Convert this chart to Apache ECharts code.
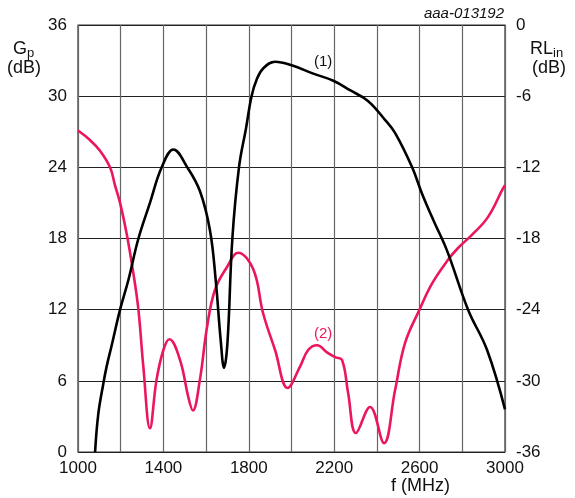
<!DOCTYPE html>
<html>
<head>
<meta charset="utf-8">
<script src="https://cdn.jsdelivr.net/npm/echarts@6/dist/echarts.min.js"></script>
<style>html,body{margin:0;padding:0;background:#fff;}#c{width:575px;height:498px;}</style>
</head>
<body>
<div id="c"></div>
<script>
// Gp (left axis, dB) vs f (MHz)
var gpFreq = [1080,1095,1119,1134,1158,1197,1236,1283,1337,1392,1447,1512,1571,1618,1645,1668,1684,1700,1723,1754,1787,1813,1837,1868,1923,2001,2102,2196,2274,2358,2438,2485,2565,2611,2663,2728,2827,2916,3000];
var gpVal  = [0,3.2,5.8,7.2,9.0,12,14.5,18,21,24,25.5,24,22,18.7,14.5,9.5,7.1,9.2,18,24,27.3,30,31.4,32.35,32.9,32.6,31.9,31.3,30.5,29.6,28.0,26.9,24.0,21.8,19.6,17,12,8.6,3.6];
// RLin (right axis, dB) vs f (MHz)
var rlFreq = [1000,1056,1103,1150,1173,1197,1228,1259,1283,1306,1337,1368,1400,1428,1478,1517,1538,1571,1604,1642,1698,1750,1821,1867,1923,1982,2040,2078,2120,2166,2204,2237,2265,2302,2368,2433,2485,2532,2602,2658,2733,2780,2845,2920,2990,3000];
var rlVal  = [-8.9,-9.7,-10.6,-12.0,-13.5,-15.0,-17.6,-20.9,-24,-28.8,-34.0,-29.9,-27.4,-26.5,-28.25,-31.4,-32.5,-29.9,-25.5,-22.3,-20.4,-19.2,-20.6,-24.3,-27.4,-30.6,-28.8,-27.4,-27.0,-27.6,-28.0,-28.25,-31.0,-34.4,-32.2,-35.25,-30.8,-26.8,-23.9,-21.8,-19.8,-18.8,-17.7,-16.2,-13.8,-13.5];
var xTicks = [1000,1400,1800,2200,2600,3000];

function pairs(xs, ys){ return xs.map(function(x,i){ return [x, ys[i]]; }); }

var chart = echarts.init(document.getElementById('c'));
var fam = 'Liberation Sans, Arial, sans-serif';
var red = '#eb1560';
chart.setOption({
  animation: false,
  backgroundColor: '#fff',
  grid: {left: 78, right: 70, top: 25, bottom: 46, show: true, borderColor: '#333', borderWidth: 1.2},
  xAxis: {
    type: 'value', min: 1000, max: 3000, interval: 200,
    axisLine: {show: false}, axisTick: {show: false},
    splitLine: {show: true, lineStyle: {color: '#666', width: 1.2}},
    axisLabel: {color: '#111', fontSize: 17, fontFamily: fam, margin: 8,
      formatter: function(v){ return xTicks.indexOf(v) >= 0 ? String(v) : ''; }}
  },
  yAxis: [
    {type: 'value', min: 0, max: 36, interval: 6, position: 'left',
     axisLine: {show: false}, axisTick: {show: false},
     splitLine: {show: true, lineStyle: {color: '#222', width: 1.2}},
     axisLabel: {color: '#111', fontSize: 17, fontFamily: fam, margin: 11}},
    {type: 'value', min: -36, max: 0, interval: 6, position: 'right',
     axisLine: {show: false}, axisTick: {show: false}, splitLine: {show: false},
     axisLabel: {color: '#111', fontSize: 17, fontFamily: fam, margin: 11}}
  ],
  series: [
    {type: 'line', yAxisIndex: 0, data: pairs(gpFreq, gpVal), smooth: 0.4, showSymbol: false,
     lineStyle: {color: '#000', width: 2.6}, z: 3,
     markPoint: {symbol: 'circle', symbolSize: 0, silent: true,
       data: [{coord: [2148, 32.9], label: {show: true, formatter: '(1)', color: '#111', fontSize: 15, fontFamily: fam, position: 'inside'}}]}},
    {type: 'line', yAxisIndex: 1, data: pairs(rlFreq, rlVal), smooth: 0.4, showSymbol: false,
     lineStyle: {color: red, width: 2.6}, z: 2,
     markPoint: {symbol: 'circle', symbolSize: 0, silent: true,
       data: [{coord: [2148, -26], label: {show: true, formatter: '(2)', color: red, fontSize: 15, fontFamily: fam, position: 'inside'}}]}}
  ],
  graphic: [
    {type: 'text', left: 13, top: 40, style: {text: '{a|G}{b|p}', rich: {a: {fontSize: 18, fontFamily: fam, fill: '#111'}, b: {fontSize: 13, fontFamily: fam, fill: '#111', padding: [9,0,0,0]}}}},
    {type: 'text', left: 7, top: 59, style: {text: '(dB)', fontSize: 18, fontFamily: fam, fill: '#111'}},
    {type: 'text', left: 530, top: 40, style: {text: '{a|RL}{b|in}', rich: {a: {fontSize: 18, fontFamily: fam, fill: '#111'}, b: {fontSize: 13, fontFamily: fam, fill: '#111', padding: [9,0,0,0]}}}},
    {type: 'text', left: 532, top: 59, style: {text: '(dB)', fontSize: 18, fontFamily: fam, fill: '#111'}},
    {type: 'text', right: 71, top: 6, style: {text: 'aaa-013192', fontSize: 15, fontStyle: 'italic', fontFamily: fam, fill: '#111'}},
    {type: 'text', left: 391, top: 477, style: {text: 'f (MHz)', fontSize: 18, fontFamily: fam, fill: '#111'}}
  ]
});
</script>
</body>
</html>
